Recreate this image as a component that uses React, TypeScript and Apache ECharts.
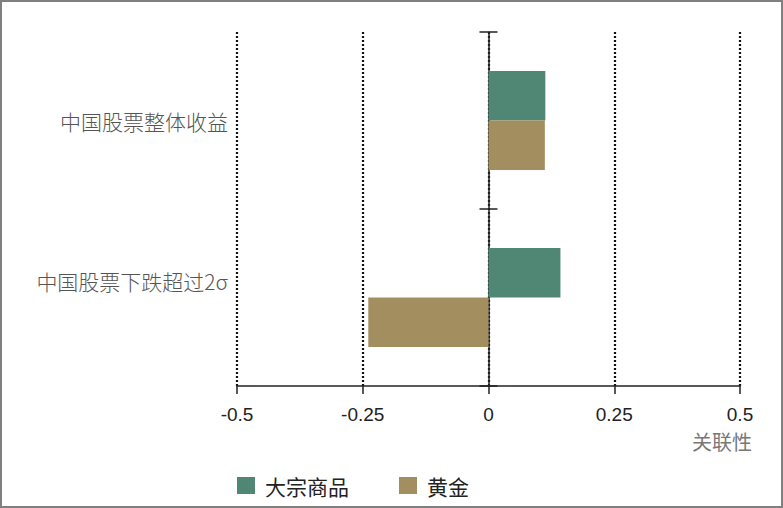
import React, { useEffect, useRef } from "react";
import * as echarts from "echarts";

const categories = ["中国股票整体收益", "中国股票下跌超过2σ"];
const commodityValues = [0.113, 0.143];
const goldValues = [0.112, -0.239];
const seriesNames = ["大宗商品", "黄金"];
const axisName = "关联性";

const GREEN = "#4f8774";
const GOLD = "#a38e5f";
const CJK = '"Noto Sans CJK SC", "Noto Sans", sans-serif';

export default function App() {
  const ref = useRef<HTMLDivElement>(null);
  useEffect(() => {
    document.body.style.margin = "0";
    const chart = echarts.init(ref.current!, null, { renderer: "svg" });
    const catAxisBase = {
      type: "category",
      data: categories,
      inverse: true,
      position: "left",
    };
    chart.setOption({
      animation: false,
      grid: { left: 237, right: 43, top: 32, bottom: 122, containLabel: false },
      legend: {
        left: 237,
        top: 475,
        padding: 0,
        itemWidth: 18,
        itemHeight: 17,
        itemGap: 50,
        icon: "rect",
        textStyle: { fontSize: 21, color: "#222", fontFamily: CJK, padding: [0, 0, 0, 5] },
        data: seriesNames,
      },
      xAxis: [
        {
          type: "value",
          min: -0.5,
          max: 0.5,
          interval: 0.25,
          axisLine: { show: true, lineStyle: { color: "#222", width: 1.5 } },
          axisTick: { show: true, length: 8, lineStyle: { color: "#222", width: 1.5 } },
          axisLabel: {
            fontSize: 19,
            color: "#222",
            fontFamily: '"Liberation Sans", Arial, sans-serif',
            margin: 19,
          },
          splitLine: {
            show: true,
            lineStyle: { color: "#111", width: 2.2, type: [2, 2] },
          },
          name: axisName,
          nameLocation: "end",
          nameGap: 12,
          nameTextStyle: {
            fontSize: 20,
            color: "#777",
            fontFamily: CJK,
            align: "right",
            verticalAlign: "top",
            padding: [46, 0, 0, 0],
          },
        },
        { type: "value", min: -0.5, max: 0.5, show: false },
      ],
      yAxis: [
        {
          ...catAxisBase,
          axisLine: { show: true, onZero: true, onZeroAxisIndex: 0, lineStyle: { color: "#222", width: 1.5 } },
          axisTick: { show: true, inside: false, length: 9, lineStyle: { color: "#222", width: 1.5 } },
          axisLabel: { show: false },
          splitLine: { show: false },
        },
        {
          ...catAxisBase,
          axisLine: { show: false, onZero: true, onZeroAxisIndex: 1 },
          axisTick: { show: true, inside: true, length: 9, lineStyle: { color: "#222", width: 1.5 } },
          axisLabel: { show: false },
          splitLine: { show: false },
        },
        {
          ...catAxisBase,
          axisLine: { show: false, onZero: false },
          axisTick: { show: false },
          axisLabel: {
            show: true,
            margin: 9,
            fontSize: 21,
            color: "#555",
            fontFamily: CJK,
            fontWeight: 300,
            formatter: (v: string, i: number) => (i === 1 ? `{up|${v}}` : v),
            rich: {
              up: {
                fontSize: 21,
                color: "#555",
                fontFamily: CJK,
                fontWeight: 300,
                padding: [0, 0, 34, 0],
              },
            },
          },
          splitLine: { show: false },
        },
      ],
      series: [
        {
          name: seriesNames[0],
          type: "bar",
          xAxisIndex: 0,
          yAxisIndex: 0,
          data: commodityValues,
          itemStyle: { color: GREEN },
          barCategoryGap: "44%",
          barGap: "0%",
          z: 1,
        },
        {
          name: seriesNames[1],
          type: "bar",
          xAxisIndex: 0,
          yAxisIndex: 0,
          data: goldValues,
          itemStyle: { color: GOLD },
          barCategoryGap: "44%",
          barGap: "0%",
          z: 1,
        },
      ],
    });
    return () => chart.dispose();
  }, []);
  return (
    <div style={{ position: "absolute", left: 0, top: 0, width: 783, height: 508, background: "#fff" }}>
      <div ref={ref} style={{ width: 783, height: 508 }} />
      <div
        style={{
          position: "absolute",
          left: 0,
          top: 0,
          width: 783,
          height: 508,
          boxSizing: "border-box",
          border: "2px solid #808080",
          pointerEvents: "none",
        }}
      />
    </div>
  );
}
